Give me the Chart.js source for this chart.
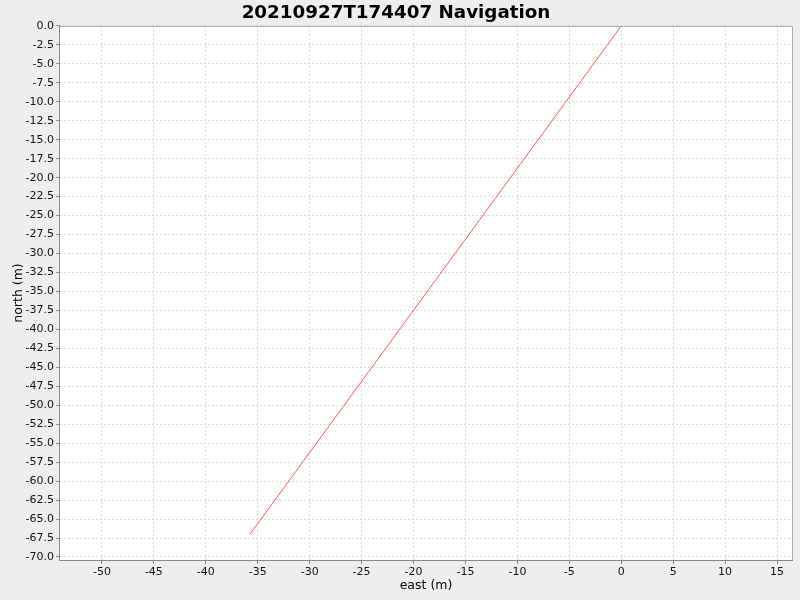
<!DOCTYPE html>
<html>
<head>
<meta charset="utf-8">
<script src="https://cdn.jsdelivr.net/npm/chart.js@4/dist/chart.umd.min.js"></script>
<style>
  html, body { margin: 0; padding: 0; background: #eeeeee; }
  #wrap { width: 800px; height: 600px; }
</style>
</head>
<body>
<div id="wrap"><canvas id="nav" width="800" height="600"></canvas></div>
<script>
// track (east, north in metres)
const eastValues = [-35.75, 0];
const northValues = [-67.0, 0];

const xTickValues = [-50, -45, -40, -35, -30, -25, -20, -15, -10, -5, 0, 5, 10, 15];
const yTickValues = [0, -2.5, -5, -7.5, -10, -12.5, -15, -17.5, -20, -22.5, -25, -27.5,
  -30, -32.5, -35, -37.5, -40, -42.5, -45, -47.5, -50, -52.5, -55, -57.5, -60, -62.5,
  -65, -67.5, -70];

const xRange = [-54.04, 16.44];
const yRange = [-70.4, 0];

const track = eastValues.map((e, i) => ({ x: e, y: northValues[i] }));

const plotBackground = {
  id: "plotBackground",
  beforeDraw(chart) {
    const { ctx, chartArea: a } = chart;
    ctx.save();
    ctx.fillStyle = "#eeeeee";
    ctx.fillRect(0, 0, chart.width, chart.height);
    ctx.fillStyle = "#ffffff";
    ctx.fillRect(a.left, a.top, a.right - a.left, a.bottom - a.top);
    ctx.restore();
  },
  afterDatasetsDraw(chart) {
    const { ctx, chartArea: a } = chart;
    ctx.save();
    ctx.strokeStyle = "#aaaaaa";
    ctx.lineWidth = 1;
    ctx.beginPath();
    ctx.moveTo(a.left, a.top + 0.5);
    ctx.lineTo(a.right + 0.5, a.top + 0.5);
    ctx.lineTo(a.right + 0.5, a.bottom);
    ctx.stroke();
    // axis lines, solid
    ctx.strokeStyle = "#888888";
    ctx.beginPath();
    ctx.moveTo(a.left - 0.5, a.top);
    ctx.lineTo(a.left - 0.5, a.bottom + 0.5);
    ctx.lineTo(a.right + 1, a.bottom + 0.5);
    ctx.stroke();
    ctx.restore();
  }
};

const tickFont = { family: "DejaVu Sans", size: 11 };
const titleFont = { family: "DejaVu Sans", size: 12.5 };

new Chart(document.getElementById("nav").getContext("2d"), {
  type: "scatter",
  data: {
    datasets: [{
      label: "Navigation",
      data: track,
      showLine: true,
      borderColor: "#ff5555",
      borderWidth: 1,
      pointRadius: 0,
      fill: false
    }]
  },
  options: {
    responsive: false,
    animation: false,
    layout: { padding: { left: 0, right: 8, top: 0, bottom: 0 } },
    plugins: {
      legend: { display: false },
      tooltip: { enabled: false },
      title: {
        display: true,
        text: "20210927T174407 Navigation",
        color: "#000000",
        font: { family: "DejaVu Sans", size: 18.3, weight: "bold", lineHeight: 1.2 },
        padding: { top: 2, bottom: 2 }
      }
    },
    scales: {
      x: {
        type: "linear",
        min: xRange[0],
        max: xRange[1],
        afterBuildTicks: (s) => { s.ticks = xTickValues.map(v => ({ value: v })); },
        afterFit: (s) => { s.height = 40; },
        ticks: { color: "#111111", font: tickFont, padding: 2, maxRotation: 0, autoSkip: false },
        grid: {
          color: "#dadada",
          tickColor: "#888888",
          tickLength: 4,
          drawTicks: true
        },
        border: { display: false, dash: [2, 2] },
        title: { display: true, text: "east (m)", color: "#000000", font: titleFont, padding: { top: 2, bottom: 7 } }
      },
      y: {
        type: "linear",
        min: yRange[0],
        max: yRange[1],
        afterBuildTicks: (s) => { s.ticks = yTickValues.map(v => ({ value: v })); },
        afterFit: (s) => { s.width = 60; },
        ticks: {
          color: "#111111",
          font: tickFont,
          padding: 2,
          autoSkip: false,
          callback: (v) => Number(v).toFixed(1)
        },
        grid: {
          color: "#dadada",
          tickColor: "#888888",
          tickLength: 4,
          drawTicks: true
        },
        border: { display: false, dash: [2, 2] },
        title: { display: true, text: "north (m)", color: "#000000", font: titleFont, padding: { top: 11, bottom: 4 } }
      }
    }
  },
  plugins: [plotBackground]
});
</script>
</body>
</html>
